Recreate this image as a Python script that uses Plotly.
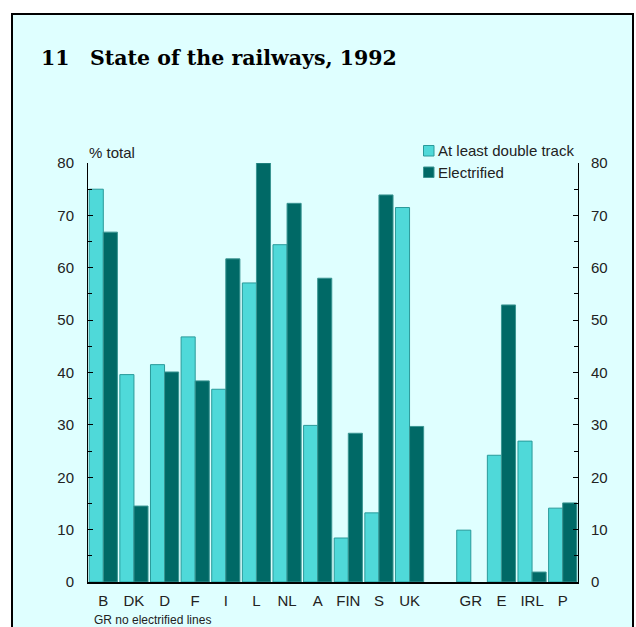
import plotly.graph_objects as go

categories = ["B", "DK", "D", "F", "I", "L", "NL", "A", "FIN", "S", "UK", " ", "GR", "E", "IRL", "P"]
double_track = [75.0, 39.6, 41.5, 46.8, 36.8, 57.1, 64.4, 29.9, 8.4, 13.2, 71.5, None, 9.9, 24.2, 26.9, 14.1]
electrified = [66.8, 14.5, 40.1, 38.4, 61.7, 80.0, 72.3, 58.0, 28.4, 73.9, 29.7, None, None, 52.9, 1.9, 15.1]
series_names = ["At least double track", "Electrified"]
y_ticks = [0, 10, 20, 30, 40, 50, 60, 70, 80]

LIGHT = "#4fd9d9"
DARK = "#006966"
LIGHT_EDGE = "#2a9a9a"
DARK_EDGE = "#3a9592"
BG = "#dfffff"

# plot area in page pixels
L, R, T, B = 88, 578, 163, 582
W, H = R - L, B - T


def px(x):
    return (x - L) / W


def py(y):
    return (B - y) / H


fig = go.Figure()
fig.add_trace(go.Bar(x=categories, y=double_track, name=series_names[0],
                     marker=dict(color=LIGHT, line=dict(color=LIGHT_EDGE, width=1))))
fig.add_trace(go.Bar(x=categories, y=electrified, name=series_names[1],
                     marker=dict(color=DARK, line=dict(color=DARK_EDGE, width=1))))
# invisible trace to carry the right-hand axis
fig.add_trace(go.Scatter(x=[categories[0]], y=[0], yaxis="y2", mode="markers",
                         marker=dict(opacity=0), showlegend=False, hoverinfo="skip"))

axis_font = dict(family="Liberation Sans, Arial, sans-serif", size=15, color="#222222")
note_font = dict(family="Liberation Sans, Arial, sans-serif", size=12, color="#222222")
title_font = dict(family="DejaVu Serif, serif", size=20.5, color="black")

shapes = [dict(type="rect", xref="paper", yref="paper",
               x0=px(12), x1=px(633), y0=py(640), y1=py(14),
               fillcolor=BG, line=dict(color="black", width=2), layer="below")]
annotations = [
    dict(text="<b>11</b>", xref="paper", yref="paper", x=px(39), y=py(58),
         xanchor="left", yanchor="middle", showarrow=False, font=title_font),
    dict(text="<b>State of the railways, 1992</b>", xref="paper", yref="paper",
         x=px(88), y=py(58), xanchor="left", yanchor="middle", showarrow=False,
         font=title_font),
    dict(text="% total", xref="paper", yref="paper", x=px(87), y=py(152),
         xanchor="left", yanchor="middle", showarrow=False, font=axis_font),
    dict(text="GR no electrified lines", xref="paper", yref="paper", x=px(93),
         y=py(627.5), xanchor="left", yanchor="bottom", showarrow=False,
         borderpad=0, font=note_font),
]
# manual legend
legend_colors = [(LIGHT, LIGHT_EDGE), (DARK, DARK_EDGE)]
for i, (name, (fc, lc)) in enumerate(zip(series_names, legend_colors)):
    yc = 150.5 + 21.5 * i
    shapes.append(dict(type="rect", xref="paper", yref="paper",
                       x0=px(423.5), x1=px(434), y0=py(yc + 5.5), y1=py(yc - 5),
                       fillcolor=fc, line=dict(color=lc, width=1)))
    annotations.append(dict(text=name, xref="paper", yref="paper", x=px(436),
                            y=py(yc), xanchor="left", yanchor="middle",
                            showarrow=False, font=axis_font))

fig.update_layout(
    width=636, height=627,
    margin=dict(l=L, r=636 - R, t=T, b=627 - B),
    paper_bgcolor="white",
    plot_bgcolor="rgba(0,0,0,0)",
    barmode="group",
    bargap=0.08,
    bargroupgap=0.0,
    font=axis_font,
    showlegend=False,
    xaxis=dict(type="category", categoryorder="array", categoryarray=categories,
               range=[-0.5, 15.5], showgrid=False, showline=True, linecolor="black",
               linewidth=2, ticks="", tickfont=axis_font, zeroline=False,
               ticklabelstandoff=4),
    yaxis=dict(range=[0, 80], tickvals=y_ticks, showgrid=False, showline=True,
               linecolor="black", linewidth=1, ticks="inside", ticklen=5,
               tickcolor="black", tickfont=axis_font, zeroline=False,
               ticklabelstandoff=10,
               minor=dict(dtick=5, ticks="inside", ticklen=4, tickcolor="black")),
    yaxis2=dict(range=[0, 80], tickvals=y_ticks, overlaying="y", side="right",
                showgrid=False, showline=True, linecolor="black", linewidth=1,
                ticks="inside", ticklen=5, tickcolor="black", tickfont=axis_font,
                zeroline=False, ticklabelstandoff=9,
                minor=dict(dtick=5, ticks="inside", ticklen=4, tickcolor="black")),
    shapes=shapes,
    annotations=annotations,
)

fig.write_html("out.html", config={"displayModeBar": False},
               post_script="document.body.style.margin='0';document.body.style.padding='0';")
